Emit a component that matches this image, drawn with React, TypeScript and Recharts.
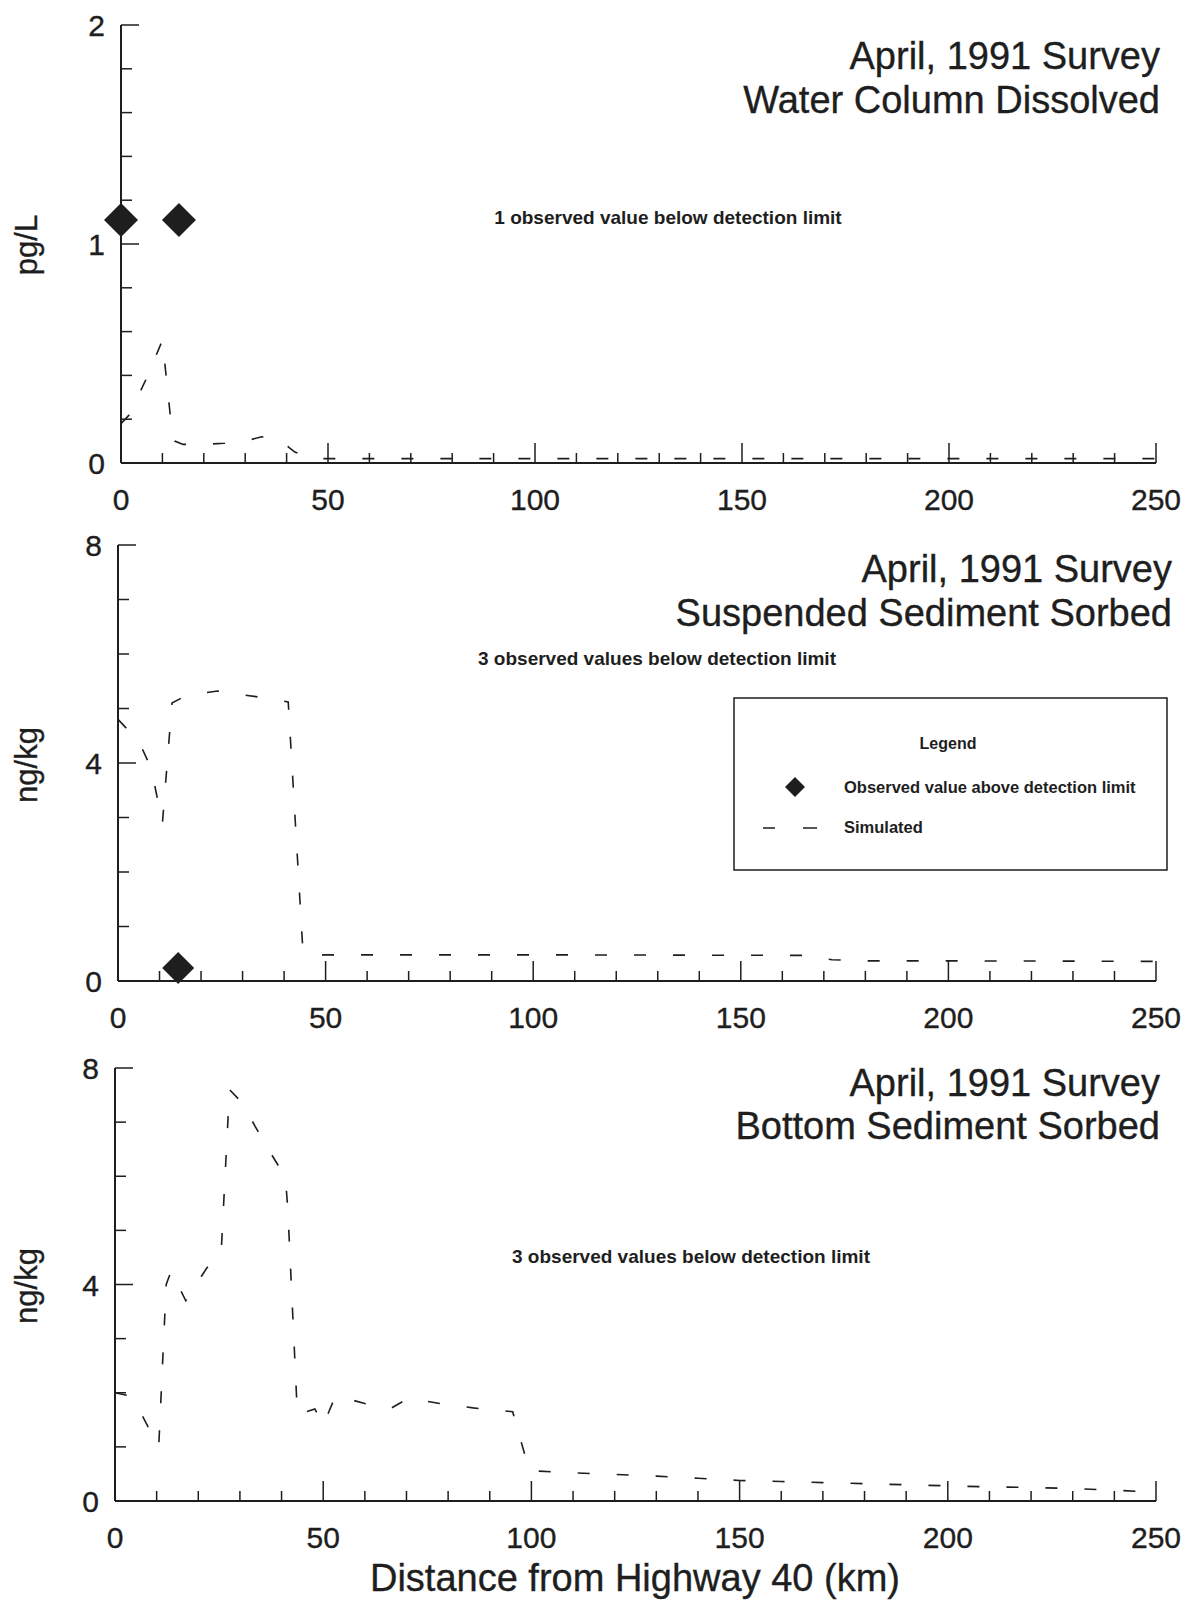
import React from 'react';
import { ComposedChart, Line, Scatter, XAxis, YAxis, Legend } from 'recharts';

const FONT = '"Liberation Sans", Arial, Helvetica, sans-serif';
const INK = '#1e1e1e';

// distance axis, shared by the three panels
const distanceTicks = [0, 10, 20, 30, 40, 50, 60, 70, 80, 90, 100, 110, 120, 130, 140, 150, 160, 170, 180, 190, 200, 210, 220, 230, 240, 250];
const distanceLabels = [0, 50, 100, 150, 200, 250];

const dissolvedTicks = [0, 0.2, 0.4, 0.6, 0.8, 1, 1.2, 1.4, 1.6, 1.8, 2];
const dissolvedLabels = [0, 1, 2];
const sorbedTicks = [0, 1, 2, 3, 4, 5, 6, 7, 8];
const sorbedLabels = [0, 4, 8];

// water column dissolved (pg/L)
const dissolvedSimKm = [0, 2, 6, 10, 11, 12, 13, 15, 20, 25, 30, 34, 38, 42, 46, 100, 150, 200, 250];
const dissolvedSimVal = [0.18, 0.22, 0.38, 0.56, 0.38, 0.2, 0.1, 0.085, 0.085, 0.09, 0.1, 0.12, 0.11, 0.05, 0.02, 0.02, 0.02, 0.02, 0.02];
const dissolvedObsKm = [0, 14];
const dissolvedObsVal = [1.11, 1.11];

// suspended sediment sorbed (ng/kg)
const suspendedSimKm = [0, 5, 8, 10.7, 13, 16, 20, 24, 30, 35, 41, 44.5, 46, 100, 165, 172, 180, 200, 250];
const suspendedSimVal = [4.8, 4.4, 3.9, 2.9, 5.1, 5.22, 5.28, 5.32, 5.25, 5.2, 5.12, 0.6, 0.48, 0.48, 0.47, 0.39, 0.37, 0.37, 0.36];
const suspendedObsKm = [14.5];
const suspendedObsVal = [0.24];

// bottom sediment sorbed (ng/kg)
const bottomSimKm = [0, 3, 5, 10.5, 12.3, 13.5, 17, 22, 25.5, 27.5, 30, 32, 36, 40, 41, 41.5, 43.8, 48, 50, 53, 60, 66, 70.5, 78, 86, 95.5, 99.5, 110, 120, 130, 140, 150, 160, 170, 180, 190, 200, 210, 220, 230, 240, 250];
const bottomSimVal = [2.0, 1.95, 1.8, 1.0, 4.0, 4.25, 3.7, 4.3, 4.6, 7.6, 7.4, 7.15, 6.6, 6.1, 5.9, 5.4, 1.6, 1.7, 1.4, 1.95, 1.8, 1.7, 1.9, 1.8, 1.72, 1.65, 0.56, 0.52, 0.49, 0.46, 0.42, 0.38, 0.36, 0.34, 0.32, 0.3, 0.28, 0.26, 0.25, 0.23, 0.2, 0.16];

const legendTitle = 'Legend';
const observedName = 'Observed value above detection limit';
const simulatedName = 'Simulated';

const toPoints = (km: number[], vals: number[]) => km.map((k, i) => ({ km: k, value: vals[i] }));

// slightly heavier text, like the printed figure
const heavy = { stroke: INK, strokeWidth: 0.35 };

const XTick = (props: any) => {
  const { x, y, payload } = props;
  const major = distanceLabels.includes(payload.value);
  return (
    <g>
      <line x1={x} x2={x} y1={y} y2={y - (major ? 20 : 10)} stroke={INK} strokeWidth={1.5} />
      {major && (
        <text x={x} y={y + 47} textAnchor="middle" fontSize={30} fontFamily={FONT} fill={INK} {...heavy}>
          {payload.value}
        </text>
      )}
    </g>
  );
};

const makeYTick = (labels: number[]) => (props: any) => {
  const { x, y, payload } = props;
  const major = labels.includes(payload.value);
  return (
    <g>
      <line x1={x} x2={x + (major ? 18 : 11)} y1={y} y2={y} stroke={INK} strokeWidth={1.5} />
      {major && (
        <text x={x - 16} y={y + 11} textAnchor="end" fontSize={30} fontFamily={FONT} fill={INK} {...heavy}>
          {payload.value}
        </text>
      )}
    </g>
  );
};

const diamond = (half: number) => (props: any) => {
  const { cx, cy } = props;
  return (
    <polygon
      points={`${cx},${cy - half} ${cx + half},${cy} ${cx},${cy + half} ${cx - half},${cy}`}
      fill={INK}
    />
  );
};

const LegendBox = () => (
  <svg width={435} height={174} style={{ display: 'block' }}>
    <rect x={1} y={1} width={433} height={172} fill="#fff" stroke={INK} strokeWidth={1.5} />
    <text x={215} y={52} textAnchor="middle" fontSize={16} fontWeight="bold" fontFamily={FONT} fill={INK}>
      {legendTitle}
    </text>
    <polygon points="62,80 72,90 62,100 52,90" fill={INK} />
    <text x={111} y={96} fontSize={16.5} fontWeight="bold" fontFamily={FONT} fill={INK}>
      {observedName}
    </text>
    <line x1={30} x2={42} y1={131} y2={131} stroke={INK} strokeWidth={1.5} />
    <line x1={70} x2={84} y1={131} y2={131} stroke={INK} strokeWidth={1.5} />
    <text x={111} y={136} fontSize={16.5} fontWeight="bold" fontFamily={FONT} fill={INK}>
      {simulatedName}
    </text>
  </svg>
);

interface PanelProps {
  plotLeft: number;
  plotRight: number;
  plotTop: number;
  plotBottom: number;
  yMax: number;
  yTicks: number[];
  yLabels: number[];
  simulated: { km: number; value: number }[];
  observed: { km: number; value: number }[];
  diamondHalf: number;
  legendBox?: { left: number; top: number };
}

const Panel: React.FC<PanelProps> = (p) => {
  const chartTop = p.plotTop - 30;
  const height = p.plotBottom - chartTop + 70;
  return (
    <div style={{ position: 'absolute', left: 0, top: chartTop }}>
      <ComposedChart
        width={1194}
        height={height}
        margin={{ top: 30, right: 1194 - p.plotRight, bottom: 0, left: 0 }}
      >
        <XAxis
          type="number"
          dataKey="km"
          domain={[0, 250]}
          ticks={distanceTicks}
          interval={0}
          height={70}
          tickSize={0}
          tickMargin={0}
          tickLine={false}
          axisLine={{ stroke: INK, strokeWidth: 2 }}
          tick={XTick}
        />
        <YAxis
          type="number"
          domain={[0, p.yMax]}
          ticks={p.yTicks}
          interval={0}
          width={p.plotLeft}
          tickSize={0}
          tickMargin={0}
          tickLine={false}
          axisLine={{ stroke: INK, strokeWidth: 2 }}
          tick={makeYTick(p.yLabels)}
        />
        <Line
          data={p.simulated}
          dataKey="value"
          type="linear"
          stroke={INK}
          strokeWidth={1.6}
          strokeDasharray="12 27"
          dot={false}
          activeDot={false}
          isAnimationActive={false}
        />
        {p.observed.length > 0 && (
          <Scatter
            data={p.observed}
            dataKey="value"
            shape={diamond(p.diamondHalf)}
            isAnimationActive={false}
          />
        )}
        {p.legendBox && (
          <Legend
            layout="horizontal"
            verticalAlign="middle"
            align="center"
            wrapperStyle={{ left: p.legendBox.left, top: p.legendBox.top - chartTop, width: 435, height: 174 }}
            content={() => <LegendBox />}
          />
        )}
      </ComposedChart>
    </div>
  );
};

const titleStyle = { fontSize: 38, fontFamily: FONT, fill: INK, ...heavy };
const noteStyle = { fontSize: 19, fontWeight: 'bold' as const, fontFamily: FONT, fill: INK };
const unitStyle = { fontSize: 31, fontFamily: FONT, fill: INK, ...heavy };

export default function App() {
  return (
    <div style={{ position: 'absolute', left: 0, top: 0, width: 1194, height: 1600, background: '#fff' }}>
      <Panel
        plotLeft={121}
        plotRight={1156}
        plotTop={25}
        plotBottom={463}
        yMax={2}
        yTicks={dissolvedTicks}
        yLabels={dissolvedLabels}
        simulated={toPoints(dissolvedSimKm, dissolvedSimVal)}
        observed={toPoints(dissolvedObsKm, dissolvedObsVal)}
        diamondHalf={17}
      />
      <Panel
        plotLeft={118}
        plotRight={1156}
        plotTop={545}
        plotBottom={981}
        yMax={8}
        yTicks={sorbedTicks}
        yLabels={sorbedLabels}
        simulated={toPoints(suspendedSimKm, suspendedSimVal)}
        observed={toPoints(suspendedObsKm, suspendedObsVal)}
        diamondHalf={16}
        legendBox={{ left: 733, top: 697 }}
      />
      <Panel
        plotLeft={115}
        plotRight={1156}
        plotTop={1068}
        plotBottom={1501}
        yMax={8}
        yTicks={sorbedTicks}
        yLabels={sorbedLabels}
        simulated={toPoints(bottomSimKm, bottomSimVal)}
        observed={[]}
        diamondHalf={16}
      />
      <svg
        width={1194}
        height={1600}
        style={{ position: 'absolute', left: 0, top: 0, pointerEvents: 'none' }}
      >
        <text x={1160} y={69} textAnchor="end" {...titleStyle}>April, 1991 Survey</text>
        <text x={1160} y={113} textAnchor="end" {...titleStyle}>Water Column Dissolved</text>
        <text x={668} y={224} textAnchor="middle" {...noteStyle}>1 observed value below detection limit</text>

        <text x={1172} y={582} textAnchor="end" {...titleStyle}>April, 1991 Survey</text>
        <text x={1172} y={626} textAnchor="end" {...titleStyle}>Suspended Sediment Sorbed</text>
        <text x={657} y={665} textAnchor="middle" {...noteStyle}>3 observed values below detection limit</text>

        <text x={1160} y={1096} textAnchor="end" {...titleStyle}>April, 1991 Survey</text>
        <text x={1160} y={1139} textAnchor="end" {...titleStyle}>Bottom Sediment Sorbed</text>
        <text x={691} y={1263} textAnchor="middle" {...noteStyle}>3 observed values below detection limit</text>

        <text transform="translate(37,245) rotate(-90)" textAnchor="middle" {...unitStyle}>pg/L</text>
        <text transform="translate(37,765) rotate(-90)" textAnchor="middle" {...unitStyle}>ng/kg</text>
        <text transform="translate(37,1286) rotate(-90)" textAnchor="middle" {...unitStyle}>ng/kg</text>

        <text x={635} y={1591} textAnchor="middle" {...titleStyle}>Distance from Highway 40 (km)</text>
      </svg>
    </div>
  );
}
